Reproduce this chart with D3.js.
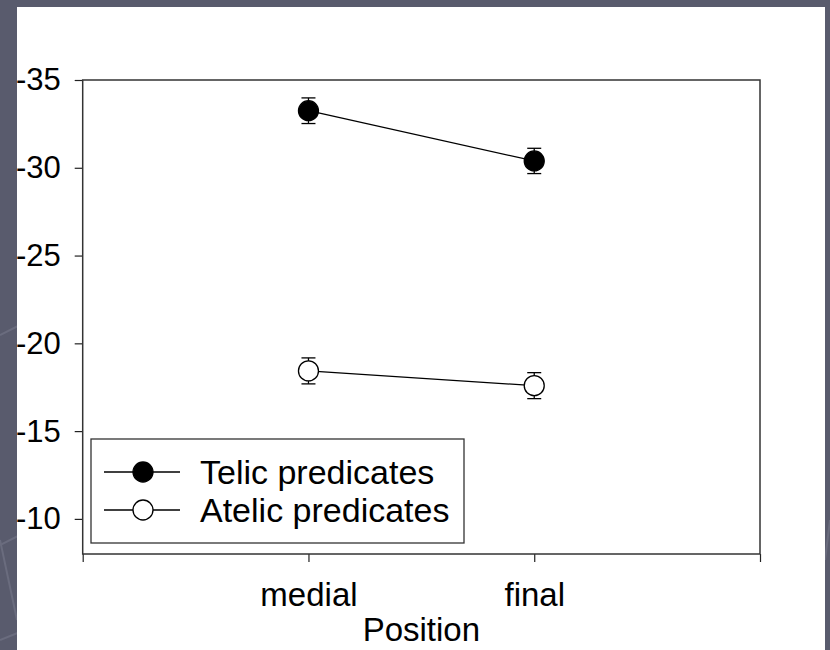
<!DOCTYPE html>
<html>
<head>
<meta charset="utf-8">
<script src="https://cdn.jsdelivr.net/npm/d3@7"></script>
<style>
  body { margin: 0; background: #595b6d; }
  svg { display: block; }
</style>
</head>
<body>
<div id="chart"></div>
<script>
// Data
const positions = ["medial", "final"];
const telicMeans = [-33.25, -30.39];
const telicErr = [0.73, 0.72];
const atelicMeans = [-18.43, -17.59];
const atelicErr = [0.74, 0.74];
const yTicks = [-35, -30, -25, -20, -15, -10];
const seriesNames = ["Telic predicates", "Atelic predicates"];

const W = 830, H = 650;
const plot = { left: 82.7, right: 760, top: 80, bottom: 554 };

const svg = d3.select("#chart").append("svg")
    .attr("width", W)
    .attr("height", H);

// Slide background with faint decorative strokes
svg.append("rect").attr("width", W).attr("height", H).attr("fill", "#595b6d");
const deco = svg.append("g").attr("stroke", "#6a6c7e").attr("stroke-width", 2).attr("fill", "none");
deco.append("line").attr("x1", 0).attr("y1", 335).attr("x2", 20).attr("y2", 325);
deco.append("line").attr("x1", 0).attr("y1", 545).attr("x2", 20).attr("y2", 535);
deco.append("line").attr("x1", 0).attr("y1", 640).attr("x2", 20).attr("y2", 632);
deco.append("line").attr("x1", 0).attr("y1", 540).attr("x2", 17).attr("y2", 620);
deco.append("line").attr("x1", 825).attr("y1", 560).attr("x2", 830).attr("y2", 520);

// White panel
svg.append("rect")
    .attr("x", 17).attr("y", 7)
    .attr("width", 808).attr("height", 643)
    .attr("fill", "#ffffff");

const x = d3.scaleLinear().domain([0, 3]).range([plot.left, plot.right]);
const y = d3.scaleLinear().domain([-8, -35]).range([plot.bottom, plot.top]);

const font = "Arial, 'Liberation Sans', sans-serif";

// Y axis
const yAxis = svg.append("g")
    .attr("transform", `translate(${plot.left},0)`)
    .call(d3.axisLeft(y).tickValues(yTicks).tickSize(8).tickSizeOuter(0).tickPadding(14)
        .tickFormat(d => String(d)));
yAxis.select(".domain").remove();
yAxis.selectAll(".tick line").attr("stroke", "#222").attr("stroke-width", 1.2);
yAxis.selectAll(".tick text")
    .attr("fill", "#000")
    .style("font-family", font)
    .style("font-size", "31px");

// X axis
const xAxis = svg.append("g")
    .attr("transform", `translate(0,${plot.bottom})`)
    .call(d3.axisBottom(x).tickValues([0, 1, 2, 3]).tickSize(8).tickSizeOuter(0)
        .tickFormat(d => positions[d - 1] || ""));
xAxis.select(".domain").remove();
xAxis.selectAll(".tick line").attr("stroke", "#222").attr("stroke-width", 1.2);
xAxis.selectAll(".tick text")
    .attr("y", 52)
    .attr("dy", 0)
    .attr("fill", "#000")
    .style("font-family", font)
    .style("font-size", "33px");

// Frame
svg.append("rect")
    .attr("x", plot.left).attr("y", plot.top)
    .attr("width", plot.right - plot.left)
    .attr("height", plot.bottom - plot.top)
    .attr("fill", "none")
    .attr("stroke", "#333")
    .attr("stroke-width", 1.5);

// Axis title
svg.append("text")
    .attr("x", (plot.left + plot.right) / 2)
    .attr("y", 641)
    .attr("text-anchor", "middle")
    .style("font-family", font)
    .style("font-size", "33px")
    .text("Position");

// Series
function drawSeries(means, errs, fill) {
    const pts = means.map((m, i) => ({ x: i + 1, m: m, e: errs[i] }));
    const g = svg.append("g");
    g.append("path")
        .datum(pts)
        .attr("fill", "none")
        .attr("stroke", "#000")
        .attr("stroke-width", 1.3)
        .attr("d", d3.line().x(d => x(d.x)).y(d => y(d.m)));
    const eb = g.selectAll(".err").data(pts).enter().append("g");
    eb.append("line")
        .attr("x1", d => x(d.x)).attr("x2", d => x(d.x))
        .attr("y1", d => y(d.m - d.e)).attr("y2", d => y(d.m + d.e))
        .attr("stroke", "#000").attr("stroke-width", 1.3);
    [-1, 1].forEach(s => {
        eb.append("line")
            .attr("x1", d => x(d.x) - 7).attr("x2", d => x(d.x) + 7)
            .attr("y1", d => y(d.m + s * d.e)).attr("y2", d => y(d.m + s * d.e))
            .attr("stroke", "#000").attr("stroke-width", 1.3);
    });
    g.selectAll("circle").data(pts).enter().append("circle")
        .attr("cx", d => x(d.x))
        .attr("cy", d => y(d.m))
        .attr("r", 10)
        .attr("fill", fill)
        .attr("stroke", "#000")
        .attr("stroke-width", 1.3);
}
drawSeries(telicMeans, telicErr, "#000");
drawSeries(atelicMeans, atelicErr, "#fff");

// Legend
const legend = svg.append("g");
legend.append("rect")
    .attr("x", 91).attr("y", 439)
    .attr("width", 373).attr("height", 104)
    .attr("fill", "#fff")
    .attr("stroke", "#333")
    .attr("stroke-width", 1.3);
const fills = ["#000", "#fff"];
seriesNames.forEach((name, i) => {
    const ly = 472 + i * 38;
    legend.append("line")
        .attr("x1", 104).attr("x2", 180)
        .attr("y1", ly).attr("y2", ly)
        .attr("stroke", "#000").attr("stroke-width", 1.3);
    legend.append("circle")
        .attr("cx", 143).attr("cy", ly).attr("r", 10)
        .attr("fill", fills[i]).attr("stroke", "#000").attr("stroke-width", 1.3);
    legend.append("text")
        .attr("x", 200).attr("y", ly + 12)
        .style("font-family", font)
        .style("font-size", "34px")
        .text(name);
});
</script>
</body>
</html>
